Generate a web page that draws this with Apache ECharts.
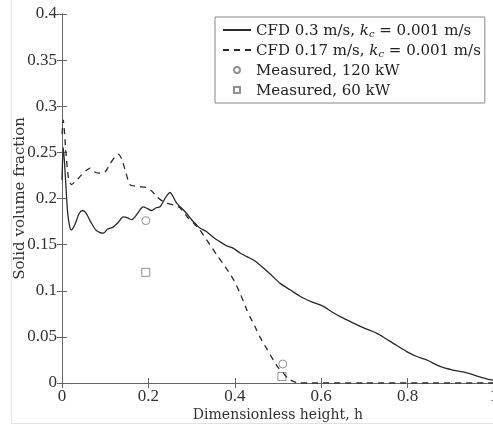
<!DOCTYPE html>
<html>
<head>
<meta charset="utf-8">
<script src="https://cdn.jsdelivr.net/npm/echarts@6/dist/echarts.min.js"></script>
<style>html,body{margin:0;padding:0;background:#fff}#chart{width:493px;height:425px}</style>
</head>
<body>
<div id="chart"></div>
<script>
// CFD 0.3 m/s, solid line  [h, fraction]
var cfd03 = [
  [0, 0.22], [0.003, 0.255], [0.008, 0.222], [0.013, 0.185], [0.018, 0.169], [0.022, 0.166],
  [0.03, 0.172], [0.04, 0.184], [0.048, 0.187], [0.056, 0.184], [0.066, 0.175], [0.078, 0.166],
  [0.088, 0.163], [0.096, 0.1625], [0.106, 0.167], [0.118, 0.169], [0.13, 0.174], [0.142, 0.180],
  [0.152, 0.179], [0.161, 0.177], [0.172, 0.182], [0.181, 0.188], [0.188, 0.191], [0.198, 0.189],
  [0.207, 0.187], [0.218, 0.190], [0.227, 0.191], [0.236, 0.198], [0.244, 0.204], [0.25, 0.2065],
  [0.256, 0.203], [0.264, 0.196], [0.273, 0.191], [0.28, 0.188], [0.288, 0.184], [0.3, 0.177],
  [0.31, 0.172], [0.319, 0.168], [0.335, 0.164], [0.35, 0.158], [0.366, 0.153], [0.38, 0.149],
  [0.397, 0.146], [0.412, 0.141], [0.428, 0.137], [0.444, 0.133], [0.458, 0.128], [0.48, 0.119],
  [0.505, 0.108], [0.528, 0.101], [0.551, 0.094], [0.578, 0.088], [0.605, 0.083], [0.625, 0.077],
  [0.644, 0.072], [0.67, 0.066], [0.697, 0.060], [0.728, 0.054], [0.75, 0.048], [0.767, 0.043],
  [0.798, 0.034], [0.82, 0.029], [0.844, 0.025], [0.875, 0.018], [0.905, 0.014], [0.937, 0.011],
  [0.965, 0.007], [0.991, 0.0036], [1.0, 0.003]
];
// CFD 0.17 m/s, dashed line
var cfd017 = [
  [0, 0.27], [0.003, 0.285], [0.009, 0.25], [0.015, 0.222], [0.022, 0.215], [0.032, 0.219],
  [0.042, 0.224], [0.055, 0.23], [0.065, 0.233], [0.075, 0.229], [0.084, 0.2275], [0.1, 0.229],
  [0.112, 0.238], [0.122, 0.245], [0.13, 0.248], [0.138, 0.243], [0.148, 0.228], [0.157, 0.215],
  [0.175, 0.213], [0.196, 0.212], [0.208, 0.208], [0.219, 0.202], [0.23, 0.198], [0.242, 0.195],
  [0.258, 0.193], [0.273, 0.190], [0.29, 0.18], [0.305, 0.173], [0.319, 0.166], [0.338, 0.153],
  [0.358, 0.139], [0.378, 0.126], [0.397, 0.112], [0.412, 0.0975], [0.428, 0.079], [0.435, 0.072],
  [0.447, 0.061], [0.458, 0.050], [0.474, 0.037], [0.489, 0.025], [0.5, 0.017], [0.512, 0.011],
  [0.523, 0.005], [0.535, 0.0017], [0.55, 0], [0.7, 0], [0.85, 0], [1.0, 0]
];
var meas120 = [[0.194, 0.176], [0.511, 0.0206]];
var meas60 = [[0.194, 0.120], [0.509, 0.007]];
var seriesNames = [
  'CFD 0.3 m/s, kc = 0.001 m/s',
  'CFD 0.17 m/s, kc = 0.001 m/s',
  'Measured, 120 kW',
  'Measured, 60 kW'
];
var legendRich = [
  '{t|CFD 0.3 m/s, }{i|k}{s|c}{t| = 0.001 m/s}',
  '{t|CFD 0.17 m/s, }{i|k}{s|c}{t| = 0.001 m/s}',
  '{t|Measured, 120 kW}',
  '{t|Measured, 60 kW}'
];

var serif = 'Liberation Serif';
var serifWide = 'DejaVu Serif';
var axisColor = '#666';
var lineColor = '#2a2a2a';
var markColor = '#777';
var textColor = '#333';

var chart = echarts.init(document.getElementById('chart'), null, {renderer: 'canvas'});
var option = {
  animation: false,
  backgroundColor: '#fff',
  grid: {left: 62, right: -1, top: 14, bottom: 42, containLabel: false, outerBoundsMode: 'none'},
  graphic: [{
    type: 'rect', silent: true, z: -10,
    shape: {x: 11.5, y: -5, width: 500, height: 428.5},
    style: {fill: 'none', stroke: '#e3e3e3', lineWidth: 1}
  }],
  xAxis: [{
    type: 'value', min: 0, max: 1, interval: 0.2,
    name: 'Dimensionless height, h', nameLocation: 'middle', nameGap: 25, nameMoveOverlap: false,
    nameTextStyle: {fontFamily: serifWide, fontSize: 14, color: textColor},
    axisLine: {show: true, lineStyle: {color: axisColor}},
    axisTick: {show: true, inside: true, length: 5, lineStyle: {color: axisColor}},
    axisLabel: {fontFamily: serif, fontSize: 17, color: textColor, margin: 5, showMaxLabel: true},
    splitLine: {show: false}
  }, {
    type: 'value', min: 0, max: 1, interval: 0.2, position: 'top',
    axisLine: {show: true, lineStyle: {color: axisColor}},
    axisTick: {show: true, inside: true, length: 5, lineStyle: {color: axisColor}},
    axisLabel: {show: false}, splitLine: {show: false}
  }],
  yAxis: [{
    type: 'value', min: 0, max: 0.4, interval: 0.05,
    name: 'Solid volume fraction', nameLocation: 'middle', nameGap: 34, nameMoveOverlap: false,
    nameTextStyle: {fontFamily: serifWide, fontSize: 15, color: textColor},
    axisLine: {show: true, lineStyle: {color: axisColor}},
    axisTick: {show: true, inside: true, length: 5, lineStyle: {color: axisColor}},
    axisLabel: {fontFamily: serif, fontSize: 17, color: textColor, margin: 5},
    splitLine: {show: false}
  }, {
    type: 'value', min: 0, max: 0.4, interval: 0.05, position: 'right',
    axisLine: {show: true, lineStyle: {color: axisColor}},
    axisTick: {show: true, inside: true, length: 5, lineStyle: {color: axisColor}},
    axisLabel: {show: false}, splitLine: {show: false}
  }],
  legend: {
    orient: 'vertical', left: 215, top: 17,
    padding: [4, 4, 4, 7],
    itemGap: 2, itemWidth: 28, itemHeight: 6,
    backgroundColor: '#fff', borderColor: '#888', borderWidth: 1, borderRadius: 0,
    data: [
      {name: seriesNames[0], itemStyle: {opacity: 0}},
      {name: seriesNames[1], itemStyle: {opacity: 0}},
      {name: seriesNames[2], icon: 'circle'},
      {name: seriesNames[3], icon: 'path://M0,0H10V10H0Z'}
    ],
    formatter: function (name) { return legendRich[seriesNames.indexOf(name)]; },
    textStyle: {
      fontFamily: serifWide, fontSize: 15, color: '#222', lineHeight: 18,
      rich: {
        t: {fontFamily: serifWide, fontSize: 15, color: '#222', lineHeight: 18, verticalAlign: 'bottom'},
        i: {fontFamily: serifWide, fontSize: 15, fontStyle: 'italic', color: '#222', lineHeight: 18, verticalAlign: 'bottom'},
        s: {fontFamily: serifWide, fontSize: 10, fontStyle: 'italic', color: '#222', lineHeight: 15, verticalAlign: 'bottom'}
      }
    }
  },
  series: [{
    name: seriesNames[0], type: 'line', data: cfd03, smooth: 0.3,
    symbol: 'none', lineStyle: {color: lineColor, width: 1.3}, itemStyle: {color: lineColor}
  }, {
    name: seriesNames[1], type: 'line', data: cfd017, smooth: 0.2,
    symbol: 'none', lineStyle: {color: lineColor, width: 1.3, type: [6, 5]}, itemStyle: {color: lineColor}
  }, {
    name: seriesNames[2], type: 'scatter', data: meas120, symbol: 'circle', symbolSize: 8,
    itemStyle: {color: '#fff', borderColor: markColor, borderWidth: 1}
  }, {
    name: seriesNames[3], type: 'scatter', data: meas60, symbol: 'rect', symbolSize: 8,
    itemStyle: {color: '#fff', borderColor: markColor, borderWidth: 1}
  }]
};
chart.setOption(option);
</script>
</body>
</html>
